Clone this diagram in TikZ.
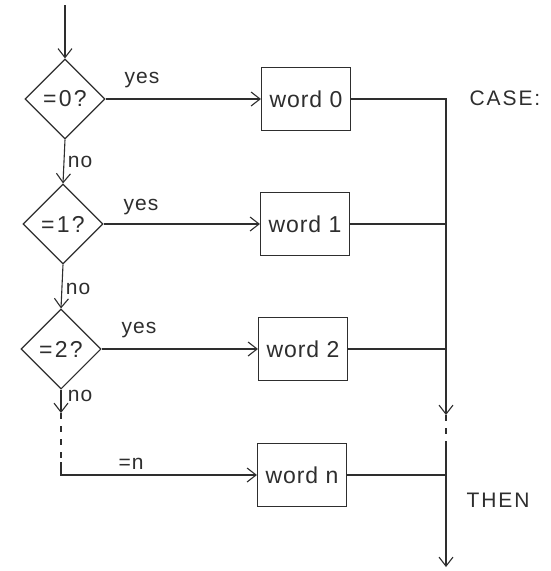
\documentclass[tikz,border=0pt]{standalone}
\usepackage{fontspec}
\setmainfont{Liberation Sans}
\newfontfamily\boxfont[LetterSpace=4]{Liberation Sans}
\newfontfamily\decfont[LetterSpace=10]{Liberation Sans}
\newfontfamily\lblfont[LetterSpace=5]{Liberation Sans}
\newfontfamily\kwfont[LetterSpace=9]{Liberation Sans}
\usetikzlibrary{shapes.geometric,arrows.meta}
\definecolor{ink}{HTML}{2e2e2e}
\begin{document}
\begin{tikzpicture}[x=1pt,y=-1pt,
  line/.style={draw=ink,line width=1.1pt},
  arr/.style={line,-{Straight Barb[length=9pt,width=14pt,line width=1.1pt]}},
  dashline/.style={line,dash pattern=on 6pt off 7pt},
  dec/.style={diamond,draw=ink,line width=1.1pt,minimum width=80pt,minimum height=80pt,inner sep=0pt,text=ink,font=\decfont\fontsize{23}{25}\selectfont},
  wbox/.style={rectangle,draw=ink,line width=1.1pt,minimum width=89pt,minimum height=63pt,inner sep=0pt,text=ink,font=\boxfont\fontsize{23}{25}\selectfont},
  lbl/.style={inner sep=0pt,text=ink,font=\lblfont\fontsize{21}{23}\selectfont},
  kw/.style={inner sep=0pt,text=ink,font=\kwfont\fontsize{21}{23}\selectfont}
]
\useasboundingbox (0,0) rectangle (550,571);
\fill[white] (0,0) rectangle (550,571);

% decisions
\coordinate (start) at (65,5);
\node[dec] (d0) at (65,99) {=0?};
\node[dec] (d1) at (63,224) {=1?};
\node[dec] (d2) at (61,349) {=2?};

% word boxes
\node[wbox] (w0) at (306,99) {word 0};
\node[wbox] (w1) at (305,224) {word 1};
\node[wbox] (w2) at (303,349) {word 2};
\node[wbox] (wn) at (302,475) {word n};

% left chain
\coordinate (l0) at (61,413);
\coordinate (l1) at (61,462);
\coordinate (l2) at (61,475);
\draw[arr] (start) -- (d0.north);
\draw[arr] (d0.south) -- (d1.north);
\draw[arr] (d1.south) -- (d2.north);
\draw[arr] (d2.south) -- (l0);
\draw[dashline] (l0) -- (l1);
\draw[arr] (l1) -- (l2) -- (wn.west);

% yes arrows
\draw[arr] (d0.east) -- (w0.west);
\draw[arr] (d1.east) -- (w1.west);
\draw[arr] (d2.east) -- (w2.west);

% right bus
\coordinate (b0) at (446,99);
\coordinate (b1) at (446,224);
\coordinate (b2) at (446,349);
\coordinate (bn) at (446,475);
\coordinate (bA) at (446,415);
\coordinate (bB) at (446,447);
\coordinate (bend) at (446,567);
\draw[arr] (w0.east) -- (b0) -- (bA);
\draw[line] (w1.east) -- (b1);
\draw[line] (w2.east) -- (b2);
\draw[line] (wn.east) -- (bn);
\draw[dashline] (bA) -- (bB);
\draw[arr] (bB) -- (bend);

% labels
\node[lbl] (y0) at (142,80) {yes};
\node[lbl] (y1) at (141,207) {yes};
\node[lbl] (y2) at (139,330) {yes};
\node[lbl] (n0) at (80,162) {no};
\node[lbl] (n1) at (78,289) {no};
\node[lbl] (n2) at (80,396) {no};
\node[lbl] (en) at (131,464) {=n};
\node[kw] (case) at (505,98) {CASE:};
\node[kw] (then) at (498,500) {THEN};
\end{tikzpicture}
\end{document}
